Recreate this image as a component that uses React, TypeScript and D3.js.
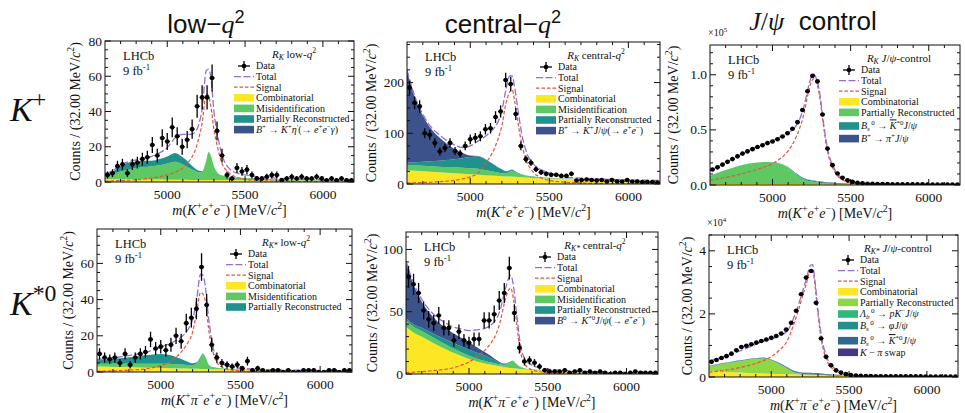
import React from "react";
import * as d3 from "d3";

const SERIF = "'Liberation Serif', 'DejaVu Serif', serif";
const SANS = "'Liberation Sans', Arial, sans-serif";

// fit-model sample points (MeV/c^2), shared by every panel
const massGrid = [4600, 4650, 4700, 4750, 4800, 4850, 4900, 4950, 5000, 5050, 5100, 5150, 5175, 5200, 5225, 5250, 5265, 5280, 5300, 5325, 5350, 5400, 5450, 5500, 5600, 5700, 5800, 5900, 6000, 6100, 6200];
const binLow = 4600;
const binWidth = 32;
const xTickMajor = [5000, 5500, 6000];

// ---- R_K low-q2 ----
const kpLowData = [4, 5, 9, 10, 5, 10, 11, 13, 14, 21, 15, 25, 23, 31, 26, 20, 24, 30, 43, 48, 48, 59, 29, 15, 4, 2, 8, 6, 7, 4, 2, 2, 3, 4, 4, 1, 2, 3, 2, 3, 2, 2, 3, 2, 1, 2, 1, 2, 1, 1];
const kpLowComb = [1.6, 1.6, 1.5, 1.5, 1.5, 1.4, 1.4, 1.4, 1.3, 1.3, 1.3, 1.2, 1.2, 1.2, 1.2, 1.2, 1.2, 1.1, 1.1, 1.1, 1.1, 1.1, 1.0, 1.0, 1.0, 0.9, 0.9, 0.9, 0.8, 0.8, 0.8];
const kpLowMisid = [1.4, 2.9, 4.5, 5.5, 6.5, 7.1, 7.6, 8.1, 9.2, 10.2, 8.7, 6.3, 5.3, 4.3, 4.8, 10.8, 15.8, 13.9, 7.9, 3.9, 2.7, 1.9, 1.6, 1.3, 0.8, 0.6, 0.4, 0.3, 0.3, 0.2, 0.2];
const kpLowPartReco = [1.0, 1.5, 3.0, 4.0, 3.5, 3.5, 3.0, 3.5, 4.0, 5.0, 4.0, 2.5, 1.5, 1.0, 0.2, 0.1, 0, 0, 0, 0, 0, 0, 0, 0, 0, 0, 0, 0, 0, 0, 0];
const kpLowEtaPrime = [0, 0, 0, 0, 0, 0, 0, 0, 0, 0, 0, 0, 0, 0, 0, 0, 0, 0, 0, 0, 0, 0, 0, 0, 0, 0, 0, 0, 0, 0, 0];
const kpLowSignal = [0.5, 0.6, 0.8, 1.0, 1.3, 1.7, 2.2, 3.0, 4.0, 5.5, 8, 13, 17, 24, 34, 50, 49, 43, 30, 19, 11, 5, 2.6, 1.6, 0.8, 0.5, 0.3, 0.2, 0.15, 0.1, 0.1];
const kpLowTotal = [4.5, 6.5, 9.5, 11.5, 12.5, 13.5, 14.5, 16.5, 19.5, 25, 27, 27, 28, 32, 42, 63, 64, 60, 40, 26, 16, 7.5, 5, 4, 2.8, 2.2, 1.8, 1.5, 1.3, 1.2, 1.1];

// ---- R_K central-q2 ----
const kpCenData = [190, 160, 153, 100, 97, 81, 64, 71, 81, 65, 60, 75, 88, 91, 94, 108, 110, 132, 143, 205, 197, 138, 75, 49, 42, 29, 23, 20, 18, 18, 16, 16, 20, 7, 8, 9, 8, 7, 8, 5, 8, 5, 5, 8, 5, 5, 4, 4, 4, 3];
const kpCenComb = [27, 26, 25, 24, 23, 22, 21, 20, 19, 18, 17, 16.5, 16, 15.5, 15, 14.7, 14.5, 14.3, 14, 13.5, 13, 12, 11.5, 11, 10, 9, 8, 7.5, 7, 6.5, 6];
const kpCenMisid = [10, 10.5, 11, 11, 11, 11.5, 12, 12, 12, 12, 10, 7.5, 6.5, 5.5, 6, 9.3, 11.5, 9.7, 7, 4.5, 3, 2, 1.5, 1, 0.5, 0.5, 0.5, 0.5, 0.4, 0.4, 0.4];
const kpCenPartReco = [5, 6.5, 8, 10, 12, 14, 16, 19, 22, 24, 21, 14, 10.5, 8, 4, 3, 2.5, 2, 1, 1, 1, 1, 0.5, 0.5, 0.5, 0.5, 0.5, 0.2, 0.3, 0.2, 0.2];
const kpCenJpsi = [182, 127, 91, 65, 47, 32.5, 20, 10, 3, 1, 0.5, 0.3, 0.2, 0.2, 0.1, 0.1, 0.1, 0, 0, 0, 0, 0, 0, 0, 0, 0, 0, 0, 0, 0, 0];
const kpCenSignal = [2, 2.5, 3, 3.5, 4.5, 5.5, 7, 10, 14, 22, 42, 68, 88, 115, 158, 182, 186, 165, 125, 80, 50, 23, 12, 7, 3.5, 2, 1.2, 0.8, 0.6, 0.5, 0.4];
const kpCenTotal = [225, 172, 138, 113, 98, 86, 77, 72, 75, 85, 95, 110, 122, 145, 185, 213, 213, 192, 150, 100, 68, 39, 28, 22, 14, 11.5, 10, 9, 8, 7.5, 7];

// ---- R_K J/psi control (x 10^5) ----
const kpJpsiData = [0.14, 0.16, 0.185, 0.21, 0.235, 0.26, 0.285, 0.305, 0.325, 0.345, 0.36, 0.38, 0.395, 0.415, 0.44, 0.47, 0.51, 0.57, 0.68, 0.85, 0.99, 0.94, 0.64, 0.33, 0.18, 0.105, 0.065, 0.042, 0.028, 0.02, 0.015, 0.012, 0.01, 0.009, 0.008, 0.008, 0.007, 0.007, 0.007, 0.006, 0.006, 0.006, 0.006, 0.005, 0.005, 0.005, 0.005, 0.005, 0.005, 0.005];
const kpJpsiComb = [0.010, 0.010, 0.010, 0.009, 0.009, 0.009, 0.009, 0.008, 0.008, 0.008, 0.008, 0.008, 0.008, 0.007, 0.007, 0.007, 0.007, 0.007, 0.007, 0.007, 0.007, 0.006, 0.006, 0.006, 0.006, 0.006, 0.005, 0.005, 0.005, 0.005, 0.005];
const kpJpsiPartReco = [0.075, 0.10, 0.125, 0.15, 0.17, 0.185, 0.195, 0.20, 0.197, 0.185, 0.15, 0.09, 0.065, 0.045, 0.032, 0.025, 0.02, 0.017, 0.013, 0.009, 0.006, 0.003, 0.001, 0, 0, 0, 0, 0, 0, 0, 0];
const kpJpsiBsKst = [0, 0, 0, 0, 0, 0, 0.001, 0.001, 0.002, 0.003, 0.005, 0.008, 0.009, 0.01, 0.01, 0.01, 0.01, 0.01, 0.01, 0.009, 0.008, 0.006, 0.004, 0.002, 0, 0, 0, 0, 0, 0, 0];
const kpJpsiBpPi = [0, 0, 0, 0, 0, 0, 0, 0, 0, 0, 0, 0, 0, 0.001, 0.001, 0.002, 0.003, 0.003, 0.004, 0.004, 0.005, 0.005, 0.004, 0.003, 0.001, 0, 0, 0, 0, 0, 0];
const kpJpsiSignal = [0.045, 0.055, 0.068, 0.083, 0.10, 0.12, 0.14, 0.165, 0.195, 0.24, 0.31, 0.43, 0.52, 0.64, 0.81, 0.94, 0.965, 0.93, 0.82, 0.55, 0.32, 0.115, 0.045, 0.018, 0.005, 0.002, 0.001, 0.0008, 0.0006, 0.0005, 0.0004];
const kpJpsiTotal = [0.13, 0.165, 0.203, 0.242, 0.279, 0.314, 0.345, 0.374, 0.402, 0.436, 0.473, 0.536, 0.602, 0.703, 0.86, 0.984, 1.005, 0.967, 0.854, 0.579, 0.346, 0.135, 0.06, 0.029, 0.012, 0.008, 0.006, 0.006, 0.006, 0.005, 0.005];

// ---- R_K* low-q2 ----
const ksLowData = [10, 8, 7, 8, 5, 10, 4, 8, 10, 11, 18, 13, 14, 12, 15, 20, 17, 27, 30, 35, 58, 37, 15, 8, 5, 4, 3, 4, 2, 6, 1, 2, 1, 0, 1, 1, 0, 1, 0, 0, 1, 1, 1, 0, 0, 1, 1, 0, 1, 1];
const ksLowComb = [3.0, 2.9, 2.8, 2.7, 2.6, 2.5, 2.4, 2.3, 2.2, 2.1, 2.0, 1.9, 1.85, 1.8, 1.75, 1.7, 1.65, 1.6, 1.6, 1.55, 1.5, 1.4, 1.3, 1.2, 1.0, 0.9, 0.8, 0.7, 0.6, 0.55, 0.5];
const ksLowMisid = [1.6, 1.7, 1.8, 1.9, 2.0, 2.1, 2.2, 2.3, 2.4, 2.4, 2.3, 2.1, 2.0, 2.0, 3.0, 6.5, 8.3, 6.5, 2.5, 1.0, 0.7, 0.5, 0.4, 0.3, 0.2, 0.15, 0.1, 0.1, 0.1, 0.1, 0.1];
const ksLowPartReco = [1.9, 2.2, 2.6, 3.0, 3.5, 4.0, 4.6, 5.1, 5.4, 5.0, 3.8, 2.3, 1.6, 1.0, 0.6, 0.4, 0.3, 0.25, 0.2, 0.15, 0.1, 0.05, 0.03, 0, 0, 0, 0, 0, 0, 0, 0];
const ksLowSignal = [0.4, 0.5, 0.6, 0.8, 1.0, 1.3, 1.6, 2.4, 3.6, 5.5, 8.5, 13.5, 17, 22, 33, 44, 43, 39, 24, 12, 5.5, 2, 1, 0.6, 0.3, 0.2, 0.15, 0.1, 0.1, 0.08, 0.07];
const ksLowTotal = [6.9, 7.3, 7.8, 8.4, 9.1, 9.9, 10.8, 12.1, 13.8, 15.5, 17.5, 21, 24, 29, 40, 54, 53.5, 47, 30, 15, 8, 4, 2.7, 2.1, 1.5, 1.25, 1.05, 0.9, 0.8, 0.73, 0.67];

// ---- R_K* central-q2 ----
const ksCenData = [78, 72, 65, 51, 44, 41, 47, 37, 37, 27, 34, 27, 25, 28, 28, 43, 43, 48, 59, 65, 85, 49, 21, 10, 11, 9, 6, 3, 2, 2, 2, 3, 1, 2, 3, 1, 2, 1, 2, 1, 0, 1, 1, 0, 1, 2, 1, 1, 1, 1];
const ksCenComb = [38, 33, 30, 26.5, 23, 20, 17, 14.5, 12, 10, 8.5, 7.2, 6.6, 6, 5.5, 5.1, 4.9, 4.7, 4.4, 4.1, 3.8, 3.3, 2.9, 2.5, 1.9, 1.5, 1.2, 1.0, 0.9, 0.8, 0.7];
const ksCenMisid = [5, 4.8, 4.6, 4.4, 4.2, 3.8, 3.4, 3.0, 2.6, 2.3, 2.0, 1.8, 1.7, 1.7, 2.0, 3.5, 5.0, 5.5, 3.5, 1.5, 0.8, 0.5, 0.4, 0.3, 0.2, 0.15, 0.1, 0.1, 0.1, 0.1, 0.1];
const ksCenPartReco = [1.5, 2.0, 2.5, 3.0, 3.5, 4.0, 4.4, 4.7, 4.8, 4.7, 4.3, 3.0, 2.0, 1.0, 0.5, 0.3, 0.2, 0.15, 0.1, 0.05, 0, 0, 0, 0, 0, 0, 0, 0, 0, 0, 0];
const ksCenJpsi = [45, 31, 21, 15, 11.5, 9.5, 8, 7, 6, 4.5, 2.8, 1.5, 1, 0.6, 0.4, 0.3, 0.2, 0.2, 0.15, 0.1, 0.05, 0, 0, 0, 0, 0, 0, 0, 0, 0, 0];
const ksCenSignal = [1.2, 1.5, 1.9, 2.4, 3.0, 3.8, 5, 7, 9.5, 14, 19, 27, 33, 43, 57, 67, 69, 62, 43, 19, 8.5, 3.3, 1.8, 1.2, 0.7, 0.45, 0.3, 0.25, 0.2, 0.15, 0.12];
const ksCenTotal = [90.7, 72.3, 60, 51.3, 45.2, 41.1, 37.8, 36.2, 34.9, 35.5, 36.6, 40.5, 44.3, 52.3, 65.4, 76.2, 79.3, 72.5, 51.2, 24.8, 13.2, 7.1, 5.1, 4, 2.8, 2.1, 1.6, 1.35, 1.2, 1.05, 0.92];

// ---- R_K* J/psi control (x 10^4) ----
const ksJpsiData = [0.48, 0.54, 0.60, 0.66, 0.74, 0.85, 0.95, 0.99, 1.04, 1.09, 1.14, 1.19, 1.24, 1.30, 1.38, 1.50, 1.72, 2.10, 2.62, 3.15, 3.36, 2.35, 1.22, 0.64, 0.37, 0.21, 0.14, 0.09, 0.06, 0.045, 0.035, 0.03, 0.028, 0.026, 0.025, 0.024, 0.023, 0.022, 0.021, 0.02, 0.02, 0.019, 0.019, 0.018, 0.018, 0.017, 0.017, 0.016, 0.016, 0.015];
const ksJpsiComb = [0.19, 0.18, 0.165, 0.15, 0.14, 0.13, 0.12, 0.11, 0.10, 0.092, 0.085, 0.078, 0.075, 0.072, 0.069, 0.066, 0.064, 0.062, 0.06, 0.057, 0.055, 0.05, 0.045, 0.04, 0.035, 0.03, 0.025, 0.022, 0.02, 0.017, 0.015];
const ksJpsiPartReco = [0.13, 0.19, 0.255, 0.31, 0.355, 0.405, 0.44, 0.47, 0.415, 0.32, 0.185, 0.06, 0.035, 0.02, 0.012, 0.008, 0.007, 0.006, 0.005, 0.003, 0.002, 0.001, 0, 0, 0, 0, 0, 0, 0, 0, 0];
const ksJpsiLambdaB = [0.012, 0.013, 0.013, 0.014, 0.014, 0.015, 0.015, 0.015, 0.015, 0.014, 0.013, 0.011, 0.01, 0.009, 0.008, 0.007, 0.006, 0.006, 0.005, 0.004, 0.004, 0.003, 0.002, 0.001, 0, 0, 0, 0, 0, 0, 0];
const ksJpsiBsPhi = [0.005, 0.005, 0.005, 0.005, 0.005, 0.005, 0.005, 0.005, 0.005, 0.005, 0.005, 0.005, 0.005, 0.005, 0.005, 0.005, 0.005, 0.005, 0.004, 0.004, 0.003, 0.002, 0.001, 0, 0, 0, 0, 0, 0, 0, 0];
const ksJpsiBsKst = [0.01, 0.011, 0.011, 0.012, 0.012, 0.013, 0.013, 0.014, 0.015, 0.017, 0.02, 0.022, 0.023, 0.025, 0.025, 0.025, 0.025, 0.025, 0.025, 0.022, 0.02, 0.015, 0.008, 0.004, 0.001, 0, 0, 0, 0, 0, 0];
const ksJpsiSwap = [0.003, 0.003, 0.003, 0.004, 0.004, 0.004, 0.004, 0.005, 0.005, 0.006, 0.008, 0.011, 0.013, 0.015, 0.018, 0.02, 0.02, 0.02, 0.02, 0.018, 0.015, 0.008, 0.004, 0.002, 0, 0, 0, 0, 0, 0, 0];
const ksJpsiSignal = [0.15, 0.18, 0.21, 0.25, 0.30, 0.36, 0.43, 0.52, 0.64, 0.84, 1.12, 1.75, 2.12, 2.55, 2.95, 3.38, 3.42, 2.95, 2.0, 1.1, 0.62, 0.23, 0.09, 0.04, 0.012, 0.006, 0.004, 0.003, 0.002, 0.002, 0.001];
const ksJpsiTotal = [0.50, 0.58, 0.66, 0.74, 0.83, 0.93, 1.03, 1.14, 1.195, 1.30, 1.44, 1.94, 2.29, 2.70, 3.10, 3.52, 3.56, 3.09, 2.13, 1.22, 0.72, 0.31, 0.15, 0.087, 0.048, 0.036, 0.029, 0.025, 0.022, 0.019, 0.016];

// colours
const YELLOW = "#fde725";
const GREEN = "#5ec962";
const TEAL = "#21918c";
const BLUE = "#3b528b";
const LIME = "#8fd744";
const EMERALD = "#35b779";
const TEAL2 = "#21908d";
const STEEL = "#31688e";
const INDIGO = "#443a83";
const TOTAL_C = "#9370cf";
const SIGNAL_C = "#e5533a";
const INK = "#111";

type Seg = { t: string; i?: boolean; s?: "u" | "d"; o?: boolean; f?: string; g?: number };
const n = (t: string): Seg => ({ t });
const it = (t: string): Seg => ({ t, i: true });
const up = (t: string, i = false): Seg => ({ t, s: "u", i });
const dn = (t: string, i = false): Seg => ({ t, s: "d", i });
const upAfterSub = (t: string): Seg => ({ t, s: "u", g: 1.5 });
const bar = (t: string): Seg => ({ t, i: true, o: true });

function Rich({ x, y, segs, size, anchor = "start", family = SERIF, transform }: any) {
  let cur = 0;
  return (
    <text x={x} y={y} fontSize={size} fontFamily={family} textAnchor={anchor} fill={INK} transform={transform} style={{ whiteSpace: "pre" }}>
      {segs.map((sg: Seg, j: number) => {
        const target = sg.s === "u" ? -0.4 * size : sg.s === "d" ? 0.2 * size : 0;
        const dy = target - cur;
        cur = target;
        return (
          <tspan
            key={j}
            dy={dy !== 0 ? dy : undefined}
            dx={sg.g}
            fontStyle={sg.i ? "italic" : undefined}
            fontSize={sg.s ? size * 0.7 : undefined}
            fontFamily={sg.f}
            textDecoration={sg.o ? "overline" : undefined}
          >
            {sg.t}
          </tspan>
        );
      })}
    </text>
  );
}

const xTitleK: Seg[] = [it("m"), n("("), it("K"), up("+"), it("e"), up("+"), it("e"), up("−"), n(") [MeV/"), it("c"), up("2"), n("]")];
const xTitleKst: Seg[] = [it("m"), n("("), it("K"), up("+"), it("π"), up("−"), it("e"), up("+"), it("e"), up("−"), n(") [MeV/"), it("c"), up("2"), n("]")];
const yTitle: Seg[] = [n("Counts / (32.00 MeV/"), it("c"), up("2"), n(")")];

const panels = [
  {
    id: "a", frame: { x: 105, y: 41, w: 249, h: 141 }, yMax: 80, yMajor: 20, yMinor: 5, fmt: d3.format("d"), mult: 1, ylabDx: 30,
    data: kpLowData, signal: kpLowSignal, total: kpLowTotal, xTitle: xTitleK,
    layers: [
      { key: "comb", v: kpLowComb, c: YELLOW, label: [n("Combinatorial")] },
      { key: "misid", v: kpLowMisid, c: GREEN, label: [n("Misidentification")] },
      { key: "pr", v: kpLowPartReco, c: TEAL, label: [n("Partially Reconstructed")] },
      { key: "eta", v: kpLowEtaPrime, c: BLUE, label: [it("B"), up("+"), n(" → "), it("K"), up("+"), it("η"), up("′"), n("(→ "), it("e"), up("+"), it("e"), up("−"), it("γ"), n(")")] },
    ],
    title: [it("R"), dn("K", true), n(" low-"), it("q"), up("2")],
  },
  {
    id: "b", frame: { x: 407, y: 42, w: 253, h: 142 }, yMax: 280, yMajor: 100, yMinor: 25, fmt: d3.format("d"), mult: 1, ylabDx: 36,
    data: kpCenData, signal: kpCenSignal, total: kpCenTotal, xTitle: xTitleK,
    layers: [
      { key: "comb", v: kpCenComb, c: YELLOW, label: [n("Combinatorial")] },
      { key: "misid", v: kpCenMisid, c: GREEN, label: [n("Misidentification")] },
      { key: "pr", v: kpCenPartReco, c: TEAL, label: [n("Partially Reconstructed")] },
      { key: "jpsi", v: kpCenJpsi, c: BLUE, label: [it("B"), up("+"), n(" → "), it("K"), up("+"), it("J"), n("/"), it("ψ"), n("(→ "), it("e"), up("+"), it("e"), up("−"), n(")")] },
    ],
    title: [it("R"), dn("K", true), n(" central-"), it("q"), up("2")],
  },
  {
    id: "c", frame: { x: 710, y: 45, w: 250, h: 140 }, yMax: 1.27, yMajor: 0.5, yMinor: 0.1, fmt: d3.format(".1f"), mult: 1e5, ylabDx: 37, expo: "5",
    data: kpJpsiData, signal: kpJpsiSignal, total: kpJpsiTotal, xTitle: xTitleK,
    layers: [
      { key: "comb", v: kpJpsiComb, c: YELLOW, label: [n("Combinatorial")] },
      { key: "pr", v: kpJpsiPartReco, c: GREEN, label: [n("Partially Reconstructed")] },
      { key: "bsk", v: kpJpsiBsKst, c: TEAL, gap: 3, label: [it("B"), dn("s", true), upAfterSub("0"), n(" → "), bar("K"), up("*0"), it("J"), n("/"), it("ψ")] },
      { key: "bpi", v: kpJpsiBpPi, c: BLUE, gap: 2, label: [it("B"), up("+"), n(" → "), it("π"), up("+"), it("J"), n("/"), it("ψ")] },
    ],
    title: [it("R"), dn("K", true), n(" "), it("J"), n("/"), it("ψ"), n("-control")],
  },
  {
    id: "d", frame: { x: 97, y: 229, w: 255, h: 143 }, yMax: 79, yMajor: 20, yMinor: 5, fmt: d3.format("d"), mult: 1, ylabDx: 29,
    data: ksLowData, signal: ksLowSignal, total: ksLowTotal, xTitle: xTitleKst,
    layers: [
      { key: "comb", v: ksLowComb, c: YELLOW, label: [n("Combinatorial")] },
      { key: "misid", v: ksLowMisid, c: GREEN, label: [n("Misidentification")] },
      { key: "pr", v: ksLowPartReco, c: TEAL, label: [n("Partially Reconstructed")] },
    ],
    title: [it("R"), dn("K*", true), n(" low-"), it("q"), up("2")],
  },
  {
    id: "e", frame: { x: 406, y: 232, w: 252, h: 142 }, yMax: 114, yMajor: 50, yMinor: 10, fmt: d3.format("d"), mult: 1, ylabDx: 34,
    data: ksCenData, signal: ksCenSignal, total: ksCenTotal, xTitle: xTitleKst,
    layers: [
      { key: "comb", v: ksCenComb, c: YELLOW, label: [n("Combinatorial")] },
      { key: "misid", v: ksCenMisid, c: GREEN, label: [n("Misidentification")] },
      { key: "pr", v: ksCenPartReco, c: TEAL, label: [n("Partially Reconstructed")] },
      { key: "jpsi", v: ksCenJpsi, c: BLUE, label: [it("B"), up("0"), n(" → "), it("K"), up("*0"), it("J"), n("/"), it("ψ"), n("(→ "), it("e"), up("+"), it("e"), up("−"), n(")")] },
    ],
    title: [it("R"), dn("K*", true), n(" central-"), it("q"), up("2")],
  },
  {
    id: "f", frame: { x: 709, y: 235, w: 249, h: 142 }, yMax: 4.5, yMajor: 2, yMinor: 0.5, fmt: d3.format("d"), mult: 1e4, ylabDx: 22, expo: "4",
    data: ksJpsiData, signal: ksJpsiSignal, total: ksJpsiTotal, xTitle: xTitleKst,
    layers: [
      { key: "comb", v: ksJpsiComb, c: YELLOW, label: [n("Combinatorial")] },
      { key: "pr", v: ksJpsiPartReco, c: LIME, label: [n("Partially Reconstructed")] },
      { key: "lb", v: ksJpsiLambdaB, c: EMERALD, gap: 1, label: [it("Λ"), dn("b", true), upAfterSub("0"), n(" → "), it("pK"), up("−"), it("J"), n("/"), it("ψ")] },
      { key: "bsphi", v: ksJpsiBsPhi, c: TEAL2, gap: 1, label: [it("B"), dn("s", true), upAfterSub("0"), n(" → "), it("φJ"), n("/"), it("ψ")] },
      { key: "bsk", v: ksJpsiBsKst, c: STEEL, gap: 4.5, label: [it("B"), dn("s", true), upAfterSub("0"), n(" → "), bar("K"), up("*0"), it("J"), n("/"), it("ψ")] },
      { key: "swap", v: ksJpsiSwap, c: INDIGO, gap: 1, label: [it("K"), n(" − "), it("π"), n(" swap")] },
    ],
    title: [it("R"), dn("K*", true), n(" "), it("J"), n("/"), it("ψ"), n("-control")],
  },
];

function Panel({ p }: any) {
  const { x: fx, y: fy, w, h } = p.frame;
  const xs = d3.scaleLinear().domain([4600, 6200]).range([fx, fx + w]);
  const ys = d3.scaleLinear().domain([0, p.yMax]).range([fy + h, fy]);

  const rows = massGrid.map((m, i) => {
    const r: any = { m };
    p.layers.forEach((l: any) => (r[l.key] = l.v[i]));
    return r;
  });
  const stacked = d3.stack<any>().keys(p.layers.map((l: any) => l.key))(rows);
  const area = d3
    .area<any>()
    .x((d) => xs(d.data.m))
    .y0((d) => ys(d[0]))
    .y1((d) => ys(d[1]))
    .curve(d3.curveMonotoneX);
  const line = d3
    .line<number>()
    .x((_, i) => xs(massGrid[i]))
    .y((d) => ys(d))
    .curve(d3.curveMonotoneX);

  const clip = `clip-${p.id}`;
  const xMinor = d3.range(4700, 6200, 100);
  const yMaj = d3.range(0, p.yMax + 1e-9, p.yMajor);
  const yMin = d3.range(0, p.yMax + 1e-9, p.yMinor);
  const bottom = fy + h;

  // legend
  const lx = fx + 129;
  let cy = fy + 25;
  const entries = [
    { kind: "data", label: [n("Data")] },
    { kind: "total", label: [n("Total")] },
    { kind: "signal", label: [n("Signal")] },
    ...p.layers.map((l: any) => ({ kind: "patch", c: l.c, label: l.label, gap: l.gap })),
  ].map((e: any) => {
    cy += e.gap || 0;
    const row = { ...e, y: cy };
    cy += 10.6;
    return row;
  });

  return (
    <g>
      <defs>
        <clipPath id={clip}>
          <rect x={fx} y={fy} width={w} height={h} />
        </clipPath>
      </defs>
      <g clipPath={`url(#${clip})`}>
        {stacked.map((s, i) => (
          <path key={i} d={area(s) || ""} fill={p.layers[i].c} stroke="none" />
        ))}
        <path d={line(p.signal) || ""} fill="none" stroke={SIGNAL_C} strokeWidth={1.2} strokeDasharray="3.5,2" />
        <path d={line(p.total) || ""} fill="none" stroke={TOTAL_C} strokeWidth={1.3} strokeDasharray="7,2.5" />
        {p.data.map((v: number, k: number) => {
          const c = binLow + binWidth * (k + 0.5);
          const err = Math.sqrt(Math.max(v * p.mult, 1)) / p.mult;
          return (
            <g key={k}>
              <line x1={xs(c - binWidth / 2)} x2={xs(c + binWidth / 2)} y1={ys(v)} y2={ys(v)} stroke="#000" strokeWidth={1.3} />
              <line x1={xs(c)} x2={xs(c)} y1={ys(v - err)} y2={ys(v + err)} stroke="#000" strokeWidth={1.3} />
              <circle cx={xs(c)} cy={ys(v)} r={2.3} fill="#000" />
            </g>
          );
        })}
      </g>

      {/* frame and ticks */}
      <rect x={fx} y={fy} width={w} height={h} fill="none" stroke={INK} strokeWidth={1} />
      {xMinor.map((m) => {
        const major = xTickMajor.includes(m);
        const L = major ? 6 : 3;
        return (
          <g key={m}>
            <line x1={xs(m)} x2={xs(m)} y1={bottom} y2={bottom - L} stroke={INK} />
            <line x1={xs(m)} x2={xs(m)} y1={fy} y2={fy + L} stroke={INK} />
          </g>
        );
      })}
      {yMin.map((v: number) => {
        const major = yMaj.some((t: number) => Math.abs(t - v) < 1e-9);
        const L = major ? 6 : 3;
        return (
          <g key={v}>
            <line x1={fx} x2={fx + L} y1={ys(v)} y2={ys(v)} stroke={INK} />
            <line x1={fx + w} x2={fx + w - L} y1={ys(v)} y2={ys(v)} stroke={INK} />
          </g>
        );
      })}
      {xTickMajor.map((m) => (
        <text key={m} x={xs(m)} y={bottom + 17} fontSize={13.5} fontFamily={SERIF} textAnchor="middle" fill={INK}>
          {m}
        </text>
      ))}
      {yMaj.map((v: number) => (
        <text key={v} x={fx - 3} y={ys(v) + 4.5} fontSize={13.5} fontFamily={SERIF} textAnchor="end" fill={INK}>
          {p.fmt(v)}
        </text>
      ))}
      {p.expo && <Rich x={fx - 2} y={fy - 9} size={10} segs={[n("×10"), up(p.expo)]} />}
      <Rich x={fx + w / 2} y={bottom + 33} size={14} anchor="middle" segs={p.xTitle} />
      <Rich x={0} y={0} size={14} anchor="middle" segs={yTitle} transform={`translate(${fx - p.ylabDx + 4.5},${fy + h / 2}) rotate(-90)`} />

      {/* LHCb label */}
      <text x={fx + 18} y={fy + 19} fontSize={12.5} fontFamily={SERIF} fill={INK}>LHCb</text>
      <Rich x={fx + 18} y={fy + 34} size={12.5} segs={[n("9 fb"), up("-1")]} />

      {/* legend */}
      <Rich x={fx + 189} y={fy + 16.5} size={11} anchor="middle" segs={p.title} />
      {entries.map((e: any, i: number) => (
        <g key={i}>
          {e.kind === "data" && (
            <g>
              <line x1={lx + 4} x2={lx + 16} y1={e.y} y2={e.y} stroke="#000" strokeWidth={1.3} />
              <line x1={lx + 10} x2={lx + 10} y1={e.y - 5} y2={e.y + 5} stroke="#000" strokeWidth={1.3} />
              <circle cx={lx + 10} cy={e.y} r={2.3} fill="#000" />
            </g>
          )}
          {e.kind === "total" && <line x1={lx} x2={lx + 20} y1={e.y} y2={e.y} stroke={TOTAL_C} strokeWidth={1.3} strokeDasharray="7,2.5" />}
          {e.kind === "signal" && <line x1={lx} x2={lx + 20} y1={e.y} y2={e.y} stroke={SIGNAL_C} strokeWidth={1.2} strokeDasharray="3.5,2" />}
          {e.kind === "patch" && <rect x={lx} y={e.y - 3.8} width={20} height={7.6} fill={e.c} />}
          <Rich x={lx + 22} y={e.y + 3.4} size={10} segs={e.label} />
        </g>
      ))}
    </g>
  );
}

export default function App() {
  return (
    <svg width={965} height={413} style={{ position: "absolute", left: 0, top: 0, background: "#fff" }}>
      <rect width={965} height={413} fill="#fff" />
      <Rich x={206} y={33} size={26} anchor="middle" family={SANS} segs={[n("low−"), { t: "q", i: true, f: SERIF }, { t: "2", s: "u", f: SANS }]} />
      <Rich x={503} y={33} size={26} anchor="middle" family={SANS} segs={[n("central−"), { t: "q", i: true, f: SERIF }, { t: "2", s: "u", f: SANS }]} />
      <Rich x={813} y={30} size={26} anchor="middle" family={SANS} segs={[{ t: "J", i: true, f: SERIF }, { t: "/", f: SERIF }, { t: "ψ", i: true, f: SERIF }, n("  control")]} />
      <Rich x={10} y={121} size={34} segs={[it("K"), up("+")]} />
      <Rich x={10} y={315} size={34} segs={[it("K"), up("*0")]} />
      {panels.map((p) => (
        <Panel key={p.id} p={p} />
      ))}
    </svg>
  );
}
